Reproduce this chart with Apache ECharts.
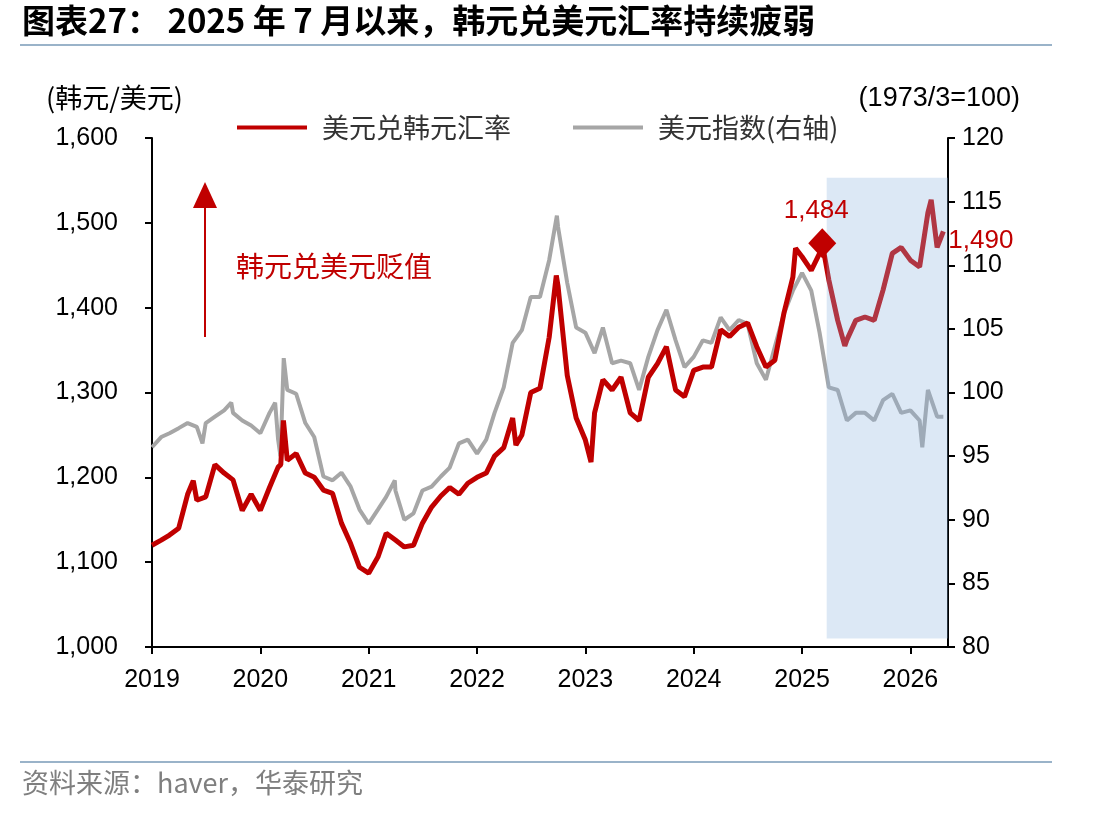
<!DOCTYPE html>
<html>
<head>
<meta charset="utf-8">
<title>韩元兑美元汇率</title>
<script src="https://cdn.jsdelivr.net/npm/echarts@6/dist/echarts.min.js"></script>
<style>
  html, body { margin: 0; padding: 0; background: #fff; }
  #chart { width: 1112px; height: 816px; }
</style>
</head>
<body>
<div id="chart"></div>
<script>
// 月度读数，从 2019-01 起，每月月初
const startMonth = '2019-01'
const krwMonthly = [
  1120, 1126, 1132, 1140, 1180, 1173, 1177, 1215, 1205, 1197, 1161, 1180,
  1161, 1188, 1212, 1220, 1228, 1205, 1200, 1185, 1181, 1146, 1122, 1094,
  1087, 1106, 1134, 1126, 1118, 1120, 1146, 1165, 1178, 1188, 1180, 1193,
  1200, 1205, 1225, 1235, 1270, 1250, 1300, 1305, 1365, 1425, 1320, 1270,
  1244, 1276, 1315, 1303, 1318, 1276, 1267, 1318, 1334, 1354, 1303, 1295,
  1326, 1330, 1330, 1374, 1366, 1377, 1382, 1354, 1330, 1338, 1394, 1436,
  1460, 1444, 1464, 1433, 1385, 1362, 1385, 1389, 1385, 1421, 1464, 1471,
  1456, 1448, 1512, 1471
]
const dxyMonthly = [
  95.7, 96.5, 96.8, 97.2, 97.6, 97.3, 97.6, 98.1, 98.6, 98.4, 97.8, 97.4,
  96.8, 98.4, 96.3, 100.2, 99.9, 97.6, 96.5, 93.4, 93.1, 93.7, 92.6, 90.8,
  89.7, 90.8, 91.8, 92.3, 90.0, 90.5, 92.3, 92.6, 93.4, 94.1, 96.0, 96.3,
  95.2, 96.3, 98.4, 100.4, 103.9, 104.9, 107.5, 107.5, 110.4, 113.0, 108.6, 105.1,
  104.7, 103.1, 105.1, 102.3, 102.5, 102.3, 100.2, 102.8, 104.9, 106.5, 104.1, 102.0,
  102.8, 104.1, 103.9, 105.9, 104.9, 105.7, 105.4, 102.3, 101.0, 103.6, 106.2, 108.0,
  109.4, 108.0, 104.7, 100.4, 100.2, 97.8, 98.4, 98.4, 97.8, 99.4, 99.9, 98.4,
  98.6, 97.8, 100.2, 98.1
]
// 月中的尖峰/低点
const krwExtraDates = ['2019-05-20', '2020-03-10', '2020-03-19', '2022-05-12', '2022-09-25', '2023-01-20', '2024-12-10', '2025-03-10', '2025-05-25', '2026-03-12', '2026-04-22']
const krwExtraValues = [1196, 1215, 1267, 1238, 1438, 1218, 1470, 1476, 1355, 1527, 1490]
const dxyExtraDates = ['2019-06-20', '2019-09-25', '2020-02-20', '2020-03-09', '2020-03-20', '2021-03-30', '2022-09-27', '2026-02-10', '2026-04-22']
const dxyExtraValues = [96.0, 99.2, 99.2, 95.0, 102.7, 93.1, 113.9, 95.7, 98.1]

const leftTicks = { min: 1000, max: 1600, interval: 100 }
const rightTicks = { min: 80, max: 120, interval: 5 }
const peakLabel = { date: '2025-03-10', value: 1476, text: '1,484' }
const lastLabel = '1,490'
const shadeRange = { from: '2025-03-25', to: '2026-05-10', low: 1010, high: 1553 }

function toYear(s) {
  const p = s.split('-').map(Number)
  const y = p[0]
  const start = Date.UTC(y, 0, 1)
  const end = Date.UTC(y + 1, 0, 1)
  const t = Date.UTC(y, p[1] - 1, p[2] || 1)
  return y + (t - start) / (end - start)
}

function buildSeries(monthly, extraDates, extraValues) {
  const y0 = Number(startMonth.slice(0, 4))
  const pts = monthly.map((v, i) => {
    const y = y0 + Math.floor(i / 12)
    const m = (i % 12) + 1
    return [toYear(y + '-' + m + '-1'), v]
  })
  extraDates.forEach((d, i) => pts.push([toYear(d), extraValues[i]]))
  pts.sort((a, b) => a[0] - b[0])
  return pts
}

const krwData = buildSeries(krwMonthly, krwExtraDates, krwExtraValues)
const dxyData = buildSeries(dxyMonthly, dxyExtraDates, dxyExtraValues)

const chart = echarts.init(document.getElementById('chart'))
const cjk = '"Noto Sans CJK SC", sans-serif'
const latin = '"Liberation Sans", Arial, sans-serif'
const red = '#c00000'

const option = {
  backgroundColor: '#fff',
  animation: false,
  grid: { left: 152, right: 164, top: 138, bottom: 169 },
  legend: {
    data: ['美元兑韩元汇率', '美元指数(右轴)'],
    left: 232,
    top: 109,
    icon: 'rect',
    itemWidth: 70,
    itemHeight: 4,
    itemGap: 62,
    textStyle: { fontFamily: cjk, fontSize: 27, color: '#333', padding: [0, 0, 0, 10] }
  },
  xAxis: {
    type: 'value',
    min: 2019,
    max: 2026.347,
    interval: 1,
    axisLine: { lineStyle: { color: '#000', width: 2 } },
    axisTick: { inside: false, length: 7, lineStyle: { color: '#000', width: 2 } },
    axisLabel: {
      margin: 21,
      fontFamily: latin,
      fontSize: 25,
      color: '#000',
      formatter: v => (Number.isInteger(v) ? String(v) : ''),
      showMaxLabel: false
    },
    splitLine: { show: false }
  },
  yAxis: [
    {
      type: 'value',
      min: leftTicks.min,
      max: leftTicks.max,
      interval: leftTicks.interval,
      axisLine: { show: true, lineStyle: { color: '#000', width: 2 } },
      axisTick: { show: true, length: 7, lineStyle: { color: '#000', width: 2 } },
      axisLabel: {
        margin: 34,
        fontFamily: latin,
        fontSize: 25,
        color: '#000',
        formatter: v => v.toLocaleString('en-US')
      },
      splitLine: { show: false }
    },
    {
      type: 'value',
      min: rightTicks.min,
      max: rightTicks.max,
      interval: rightTicks.interval,
      position: 'right',
      axisLine: { show: true, lineStyle: { color: '#000', width: 2 } },
      axisTick: { show: true, length: 7, lineStyle: { color: '#000', width: 2 } },
      axisLabel: { margin: 14, fontFamily: latin, fontSize: 25, color: '#000' },
      splitLine: { show: false }
    }
  ],
  series: [
    {
      name: '美元兑韩元汇率',
      type: 'line',
      yAxisIndex: 0,
      data: krwData,
      z: 3,
      showSymbol: false,
      color: red,
      lineStyle: { color: red, width: 5 },
      endLabel: {
        show: true,
        formatter: lastLabel,
        color: red,
        fontFamily: latin,
        fontSize: 26,
        distance: 5,
        offset: [0, 10]
      }
    },
    {
      name: '美元指数(右轴)',
      type: 'line',
      yAxisIndex: 1,
      data: dxyData,
      z: 2,
      showSymbol: false,
      color: '#a6a6a6',
      lineStyle: { color: '#a6a6a6', width: 4 }
    },
    {
      // 浅蓝阴影，盖在线条上面
      name: 'shade',
      type: 'line',
      yAxisIndex: 0,
      data: [],
      z: 4,
      silent: true,
      markArea: {
        silent: true,
        z: 10,
        itemStyle: { color: 'rgba(138,178,222,0.3)' },
        data: [[
          { xAxis: toYear(shadeRange.from), yAxis: shadeRange.high },
          { xAxis: toYear(shadeRange.to), yAxis: shadeRange.low }
        ]]
      }
    },
    {
      name: 'peak',
      type: 'line',
      yAxisIndex: 0,
      data: [],
      z: 5,
      silent: true,
      markPoint: {
        z: 12,
        symbol: 'diamond',
        symbolSize: [28, 30],
        itemStyle: { color: red },
        label: {
          show: true,
          position: 'top',
          distance: 4,
          offset: [-6, 0],
          formatter: peakLabel.text,
          color: red,
          fontFamily: latin,
          fontSize: 26
        },
        data: [{ coord: [toYear(peakLabel.date), peakLabel.value] }]
      }
    }
  ],
  graphic: [
    {
      type: 'text',
      left: 22,
      top: 4,
      style: {
        text: '图表27： 2025 年 7 月以来，韩元兑美元汇率持续疲弱',
        font: 'bold 33px ' + cjk,
        fill: '#000'
      }
    },
    {
      type: 'line',
      shape: { x1: 20, y1: 45, x2: 1052, y2: 45 },
      style: { stroke: '#9ab3c9', lineWidth: 2 }
    },
    {
      type: 'text',
      left: 46,
      top: 84,
      style: { text: '(韩元/美元)', font: '27px ' + cjk, fill: '#000' }
    },
    {
      type: 'text',
      right: 92,
      top: 85,
      style: { text: '(1973/3=100)', font: '27px ' + latin, fill: '#000' }
    },
    {
      type: 'line',
      shape: { x1: 205, y1: 337, x2: 205, y2: 205 },
      style: { stroke: red, lineWidth: 2 }
    },
    {
      type: 'polygon',
      shape: { points: [[205, 182], [193, 208], [217, 208]] },
      style: { fill: red }
    },
    {
      type: 'text',
      left: 236,
      top: 252,
      style: { text: '韩元兑美元贬值', font: '28px ' + cjk, fill: red }
    },
    {
      type: 'line',
      shape: { x1: 20, y1: 762, x2: 1052, y2: 762 },
      style: { stroke: '#9ab3c9', lineWidth: 2 }
    },
    {
      type: 'text',
      left: 22,
      top: 769,
      style: { text: '资料来源：haver，华泰研究', font: '27px ' + cjk, fill: '#7f7f7f' }
    }
  ]
}

chart.setOption(option)
</script>
</body>
</html>
